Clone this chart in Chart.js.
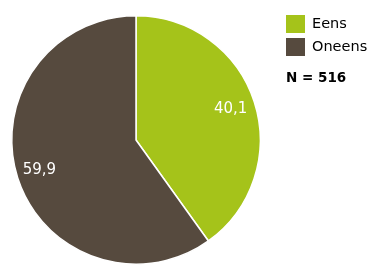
<!DOCTYPE html>
<html><head><meta charset="utf-8">
<script src="https://cdn.jsdelivr.net/npm/chart.js@4"></script>
<style>html,body{margin:0;padding:0;background:#fff}#w{width:376px;height:273px;position:relative}</style>
</head><body><div id="w"><canvas id="c"></canvas></div>
<script>
const categories = ["Eens", "Oneens"];
const values = [40.1, 59.9];
const colors = ["#a5c31a", "#564a3e"];
const labelTexts = ["40,1", "59,9"];
const nText = "N = 516";

const FONT = '"DejaVu Sans", Verdana, sans-serif';

const labelsPlugin = {
  id: 'sliceLabels',
  afterDatasetsDraw(chart) {
    const ctx = chart.ctx;
    const meta = chart.getDatasetMeta(0);
    ctx.save();
    ctx.fillStyle = '#fff';
    ctx.font = '15px ' + FONT;
    ctx.textAlign = 'center';
    ctx.textBaseline = 'middle';
    meta.data.forEach((arc, i) => {
      const p = arc.getProps(['x','y','startAngle','endAngle','outerRadius'], true);
      const mid = (p.startAngle + p.endAngle) / 2;
      const r = p.outerRadius * 0.8;
      ctx.fillText(labelTexts[i], p.x + Math.cos(mid) * r - (i === 1 ? 2 : 0), p.y + Math.sin(mid) * r);
    });
    ctx.restore();
  }
};

const legendPlugin = {
  id: 'customLegend',
  afterDraw(chart) {
    const ctx = chart.ctx;
    ctx.save();
    ctx.textBaseline = 'middle';
    ctx.textAlign = 'left';
    categories.forEach((c, i) => {
      const y = 15 + i * 23;
      ctx.fillStyle = colors[i];
      ctx.fillRect(286, y, 19, 18);
      ctx.fillStyle = '#000';
      ctx.font = '14.5px ' + FONT;
      ctx.fillText(c, 312, y + 9);
    });
    ctx.font = 'bold 13.5px ' + FONT;
    ctx.fillText(nText, 286, 78);
    ctx.restore();
  }
};

new Chart(document.getElementById('c'), {
  type: 'pie',
  data: {
    labels: categories,
    datasets: [{ data: values, backgroundColor: colors, borderColor: '#fff', borderWidth: 1.5 }]
  },
  options: {
    responsive: true,
    maintainAspectRatio: false,
    animation: false,
    layout: { padding: { left: 11, right: 115, top: 15, bottom: 8 } },
    plugins: { legend: { display: false }, tooltip: { enabled: false } }
  },
  plugins: [labelsPlugin, legendPlugin]
});
</script>
</body></html>
